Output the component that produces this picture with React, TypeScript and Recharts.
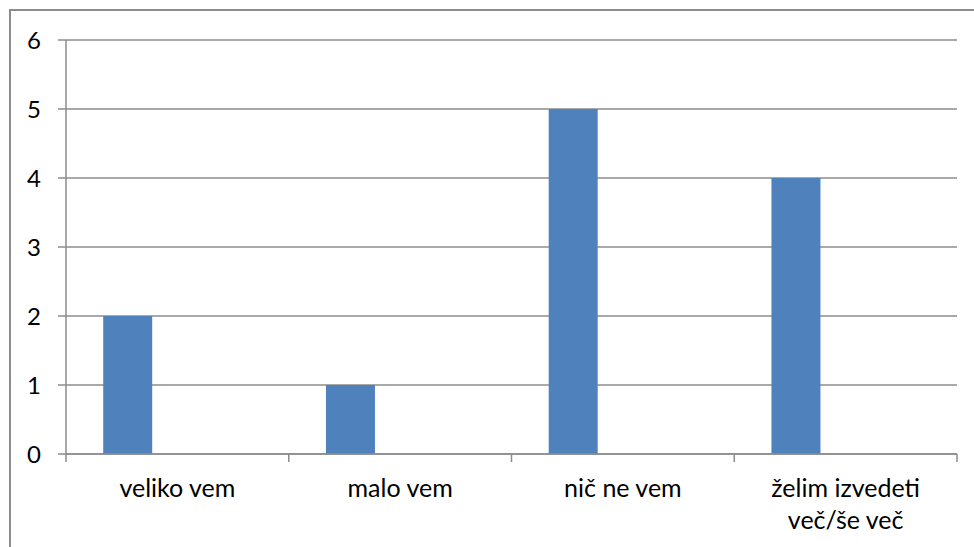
import React from "react";
import { Bar, BarChart, CartesianGrid, XAxis, YAxis } from "recharts";

// Excel-style column chart: three series per category, only the first has values
const categories = ["veliko vem", "malo vem", "nič ne vem", "želim izvedeti več/še več"];
const seriesValues = [2, 1, 5, 4];
const yTicks = [0, 1, 2, 3, 4, 5, 6];

const data = categories.map((name, i) => ({
	name,
	value: seriesValues[i],
	empty1: null,
	empty2: null,
}));

const GRAY = "#8c8c8c";
const FONT = 'Lato, "Open Sans", sans-serif';

// Wraps long labels, draws tick lines at category edges like Excel does
function CategoryTick(props: any) {
	const { x, y, payload, index } = props;
	const half = payload?.offset ?? 111.4;
	const label: string = payload.value;
	const lines = label === "želim izvedeti več/še več" ? ["želim izvedeti", "več/še več"] : [label];
	return (
		<g>
			<line x1={x - half} y1={y - 8} x2={x - half} y2={y} stroke={GRAY} strokeWidth={1.5} />
			{index === categories.length - 1 && (
				<line x1={x + half} y1={y - 8} x2={x + half} y2={y} stroke={GRAY} strokeWidth={1.5} />
			)}
			<text x={x} y={y + 35} textAnchor="middle" fill="#000" fontSize={25} fontFamily={FONT}>
				{lines.map((ln, i) => (
					<tspan key={i} x={x} dy={i === 0 ? 0 : 32}>
						{ln}
					</tspan>
				))}
			</text>
		</g>
	);
}

export default function App() {
	return (
		<div
			style={{
				position: "absolute",
				left: 0,
				top: 0,
				width: 974,
				height: 547,
				overflow: "hidden",
				background: "#fff",
			}}
		>
			{/* chart frame: runs off the right and bottom edges */}
			<div
				style={{
					position: "absolute",
					left: 9,
					top: 9,
					width: 1000,
					height: 600,
					border: `2px solid ${GRAY}`,
				}}
			/>
			<div style={{ position: "absolute", left: 0, top: 0 }}>
				<BarChart
					width={974}
					height={547}
					data={data}
					margin={{ top: 40, right: 17, left: 10, bottom: 33 }}
					barCategoryGap="16.7%"
					barGap={0}
				>
					<CartesianGrid vertical={false} stroke={GRAY} strokeWidth={1.5} />
					<XAxis
						dataKey="name"
						interval={0}
						height={60}
						axisLine={{ stroke: GRAY, strokeWidth: 1.5 }}
						tickLine={false}
						tick={<CategoryTick />}
					/>
					<YAxis
						width={56}
						domain={[0, 6]}
						ticks={yTicks}
						interval={0}
						axisLine={{ stroke: GRAY, strokeWidth: 1.5 }}
						tickLine={{ stroke: GRAY, strokeWidth: 1.5 }}
						tickSize={8}
						tickMargin={17}
						tick={{ fill: "#000", fontSize: 24, fontFamily: FONT }}
					/>
					<Bar dataKey="value" fill="#4f81bd" isAnimationActive={false} />
					<Bar dataKey="empty1" fill="#c0504d" isAnimationActive={false} />
					<Bar dataKey="empty2" fill="#9bbb59" isAnimationActive={false} />
				</BarChart>
			</div>
		</div>
	);
}
